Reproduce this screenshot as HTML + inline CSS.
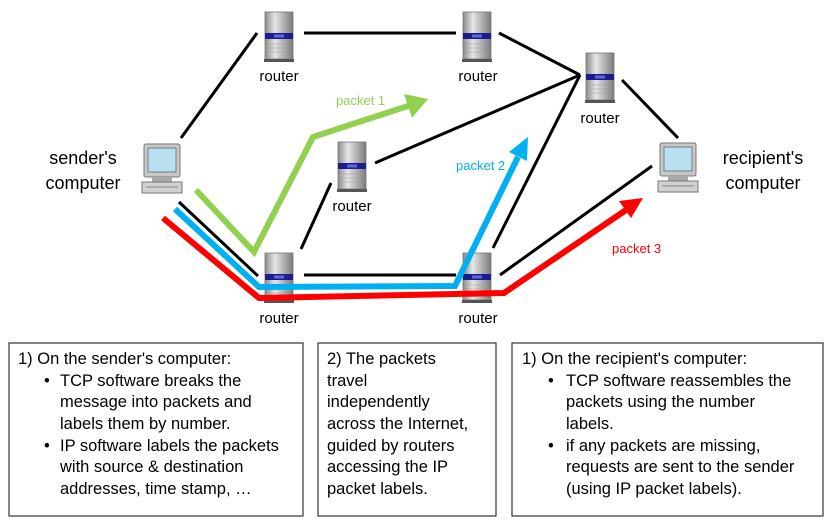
<!DOCTYPE html>
<html><head><meta charset="utf-8"><style>
html,body{margin:0;padding:0;background:#fff;}
svg{display:block;}
text{font-family:"Liberation Sans",sans-serif;}
</style></head><body>
<svg width="830" height="526" viewBox="0 0 830 526" xmlns="http://www.w3.org/2000/svg">
<defs>
<linearGradient id="rg" x1="0" x2="1"><stop offset="0" stop-color="#8a8a8a"/><stop offset="0.35" stop-color="#e6e6e6"/><stop offset="1" stop-color="#7a7a7a"/></linearGradient>
<g id="router">
<rect x="0" y="0" width="28" height="47" fill="url(#rg)" stroke="#777" stroke-width="0.8"/>
<rect x="0" y="21" width="28" height="6" fill="#1c1c8c"/>
<rect x="9" y="22.5" width="10" height="3" fill="#5a6ae0"/>
<line x1="1" y1="32" x2="27" y2="32" stroke="#999" stroke-width="0.6"/>
<line x1="1" y1="36" x2="27" y2="36" stroke="#999" stroke-width="0.6"/>
<line x1="1" y1="40" x2="27" y2="40" stroke="#999" stroke-width="0.6"/>
<rect x="-1" y="47" width="30" height="3" fill="#555"/>
</g>
<g id="pc">
<rect x="2" y="0" width="36" height="33" rx="2" fill="#c8c8c8" stroke="#777"/>
<rect x="6" y="4" width="28" height="24" fill="#b8e0f0" stroke="#666" stroke-width="0.8"/>
<rect x="10" y="33" width="20" height="5" fill="#aaa"/>
<rect x="0" y="38" width="40" height="11" fill="#d0d0d0" stroke="#777"/>
<line x1="4" y1="43" x2="36" y2="43" stroke="#888"/>
</g>
</defs>
<g stroke="#000" stroke-width="3" fill="none">
<line x1="181" y1="138" x2="257" y2="33"/>
<line x1="304" y1="33" x2="456" y2="33"/>
<line x1="499" y1="33" x2="580" y2="75"/>
<line x1="375" y1="163" x2="580" y2="75"/>
<line x1="622" y1="80" x2="678" y2="138"/>
<line x1="179" y1="202" x2="258" y2="276"/>
<line x1="301" y1="249" x2="331" y2="183"/>
<line x1="304" y1="275" x2="456" y2="275"/>
<line x1="493" y1="248" x2="580" y2="75"/>
<line x1="500" y1="275" x2="652" y2="166"/>
</g>
<use href="#router" x="265" y="12"/>
<use href="#router" x="463" y="12"/>
<use href="#router" x="586" y="53"/>
<use href="#router" x="338" y="142"/>
<use href="#router" x="265" y="253"/>
<use href="#router" x="463" y="253"/>
<use href="#pc" x="142" y="144"/>
<use href="#pc" x="658" y="143"/>
<g font-size="15" fill="#000" text-anchor="middle">
<text x="279" y="81">router</text>
<text x="478" y="81">router</text>
<text x="600" y="123">router</text>
<text x="352" y="211">router</text>
<text x="279" y="323">router</text>
<text x="478" y="323">router</text>
</g>
<g font-size="18" fill="#000" text-anchor="middle">
<text x="83" y="164">sender's</text>
<text x="83" y="189">computer</text>
<text x="763" y="164">recipient's</text>
<text x="763" y="189">computer</text>
</g>
<g fill="none" stroke-width="6" stroke-linejoin="miter">
<polyline points="196,190 254,252 313,137 414,104" stroke="#92d050"/>
<polyline points="175,209 259,287 455,286 518,157" stroke="#00b0f0"/>
<polyline points="163,218 259,298 504,293 626,210" stroke="#ff0000"/>
</g>
<polygon points="428,99 404,94 412,118" fill="#92d050"/>
<polygon points="528,137 509,152 527,161" fill="#00b0f0"/>
<polygon points="643,198 619,201 631,218" fill="#ff0000"/>
<g font-size="13">
<text x="336" y="105" fill="#92d050">packet 1</text>
<text x="456" y="170" fill="#00b0f0">packet 2</text>
<text x="612" y="253" fill="#ff0000">packet 3</text>
</g>
<g fill="#fff" stroke="#333" stroke-width="1.2">
<rect x="9" y="343" width="294" height="173"/>
<rect x="318" y="343" width="178" height="173"/>
<rect x="512" y="343" width="311" height="173"/>
</g>
<g font-size="16.5" fill="#000">
<text x="18" y="364">1) On the sender's computer:</text>
<text x="44" y="386">•</text><text x="60" y="386">TCP software breaks the</text>
<text x="60" y="407">message into packets and</text>
<text x="60" y="429">labels them by number.</text>
<text x="44" y="451">•</text><text x="60" y="451">IP software labels the packets</text>
<text x="60" y="472">with source &amp; destination</text>
<text x="60" y="494">addresses, time stamp, …</text>

<text x="327" y="364">2) The packets</text>
<text x="327" y="386">travel</text>
<text x="327" y="407">independently</text>
<text x="327" y="429">across the Internet,</text>
<text x="327" y="451">guided by routers</text>
<text x="327" y="472">accessing the IP</text>
<text x="327" y="494">packet labels.</text>

<text x="522" y="364">1) On the recipient's computer:</text>
<text x="548" y="386">•</text><text x="566" y="386">TCP software reassembles the</text>
<text x="566" y="407">packets using the number</text>
<text x="566" y="429">labels.</text>
<text x="548" y="451">•</text><text x="566" y="451">if any packets are missing,</text>
<text x="566" y="472">requests are sent to the sender</text>
<text x="566" y="494">(using IP packet labels).</text>
</g>
</svg>
</body></html>
